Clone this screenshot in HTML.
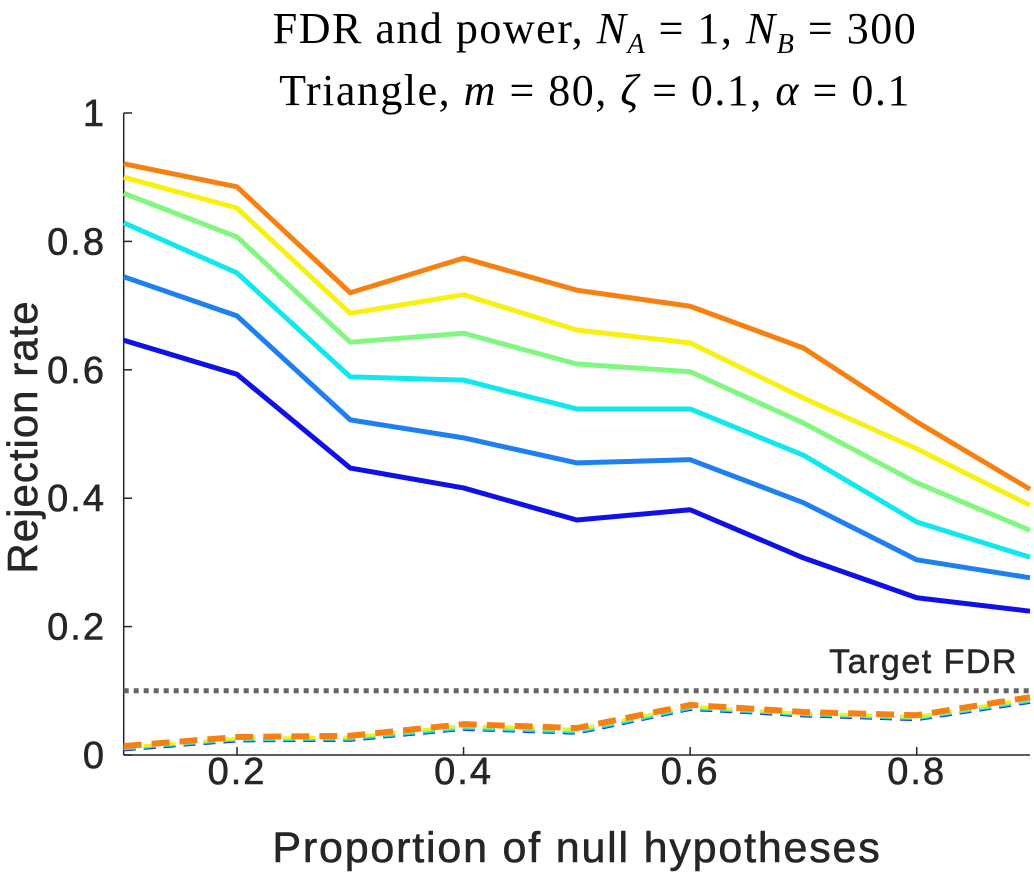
<!DOCTYPE html>
<html><head><meta charset="utf-8"><style>
body{margin:0;background:#fff;width:1034px;height:878px;overflow:hidden}
svg text{font-family:"Liberation Sans",sans-serif;fill:#262626}
</style></head><body>
<svg id="chart" width="1034" height="878"></svg>
<script>
const xs=[0.1,0.2,0.3,0.4,0.5,0.6,0.7,0.8,0.9];
const pow1=[0.646,0.593,0.447,0.416,0.366,0.382,0.307,0.245,0.224];
const pow2=[0.745,0.684,0.522,0.494,0.455,0.460,0.393,0.304,0.276];
const pow3=[0.829,0.751,0.589,0.584,0.539,0.539,0.467,0.363,0.308];
const pow4=[0.875,0.807,0.643,0.657,0.609,0.597,0.517,0.424,0.350];
const pow5=[0.900,0.852,0.688,0.717,0.662,0.642,0.556,0.477,0.389];
const pow6=[0.921,0.885,0.720,0.774,0.724,0.699,0.634,0.519,0.414];
const fdr1=[0.008,0.022,0.023,0.040,0.034,0.071,0.061,0.055,0.082];
const fdr2=[0.009,0.023,0.024,0.041,0.035,0.072,0.062,0.056,0.083];
const fdr3=[0.010,0.024,0.025,0.042,0.036,0.073,0.063,0.057,0.084];
const fdr4=[0.011,0.025,0.027,0.044,0.038,0.075,0.064,0.058,0.086];
const fdr5=[0.012,0.026,0.028,0.046,0.040,0.076,0.065,0.060,0.088];
const fdr6=[0.014,0.028,0.030,0.048,0.042,0.078,0.067,0.062,0.090];
const xTicks=[0.2,0.4,0.6,0.8];
const yTicks=[0,0.2,0.4,0.6,0.8,1];
const yTickLabels=["0","0.2","0.4","0.6","0.8","1"];
const target=0.1;
const colors=["#1010e8","#1e80f0","#10e8f0","#80f880","#f8f010","#f88010"];
const svg=document.getElementById('chart');
const NS='http://www.w3.org/2000/svg';
const X=v=>123.7+(v-0.1)/0.8*906.3;
const Y=v=>755-v*642;
function mk(t,a,p){const e=document.createElementNS(NS,t);for(const k in a)e.setAttribute(k,a[k]);(p||svg).appendChild(e);return e;}
let ax=mk('line',{x1:123.7,y1:113,x2:123.7,y2:755,stroke:'#262626','stroke-width':1.5});


let bx=mk('line',{x1:123.7,y1:755,x2:1030,y2:755,stroke:'#262626','stroke-width':1.5});


yTicks.forEach((v,i)=>{
 mk('line',{x1:123.7,y1:Y(v),x2:132,y2:Y(v),stroke:'#262626','stroke-width':1.5});
 const t=mk('text',{x:106,y:Y(v)+13,'text-anchor':'end','font-size':38,'letter-spacing':2,stroke:'#262626','stroke-width':0.6});t.textContent=yTickLabels[i];
 
 
});
xTicks.forEach(v=>{
 mk('line',{x1:X(v),y1:755,x2:X(v),y2:747,stroke:'#262626','stroke-width':1.5});
 const t=mk('text',{x:X(v),y:784,'text-anchor':'middle','font-size':38,'letter-spacing':2,stroke:'#262626','stroke-width':0.6});t.textContent=v.toFixed(1);
 
 
});
let tl=mk('line',{x1:123.7,y1:Y(target),x2:1030,y2:Y(target),stroke:'#666','stroke-width':5,'stroke-dasharray':'5 5'});


let tt=mk('text',{x:1018,y:Y(target)-18,'text-anchor':'end','font-size':34,'letter-spacing':1.5,stroke:'#262626','stroke-width':0.5});tt.textContent='Target FDR';


const pts=a=>a.map((v,i)=>X(xs[i])+','+Y(v)).join(' ');
[fdr1,fdr2,fdr3,fdr4,fdr5,fdr6].forEach((a,i)=>{
 const l=mk('polyline',{points:pts(a),fill:'none',stroke:colors[i],'stroke-width':i==5?6:3,'stroke-dasharray':i==5?'18 10':'12 8'});
 
 
});
[pow1,pow2,pow3,pow4,pow5,pow6].forEach((a,i)=>{
 const l=mk('polyline',{points:pts(a),fill:'none',stroke:colors[i],'stroke-width':5,'stroke-linejoin':'round'});
 
 
});
let xl=mk('text',{x:577,y:862,'text-anchor':'middle','font-size':43,'letter-spacing':1.8,stroke:'#262626','stroke-width':0.6});xl.textContent='Proportion of null hypotheses';


let yl=mk('text',{x:0,y:0,'text-anchor':'middle','font-size':42,'letter-spacing':1,stroke:'#262626','stroke-width':0.6,transform:'translate(37,437) rotate(-90)'});yl.textContent='Rejection rate';


</script>
<div style="position:absolute;left:0;top:6px;width:1190px;text-align:center;font-family:'Liberation Serif',serif;font-size:44px;letter-spacing:1.5px;line-height:46px;color:#000">
FDR and power, <i>N<sub style="font-size:28px">A</sub></i> = 1, <i>N<sub style="font-size:28px">B</sub></i> = 300<br>
Triangle, <i>m</i> = 80, <i>ζ</i> = 0.1, <i>α</i> = 0.1
</div>
</body></html>
